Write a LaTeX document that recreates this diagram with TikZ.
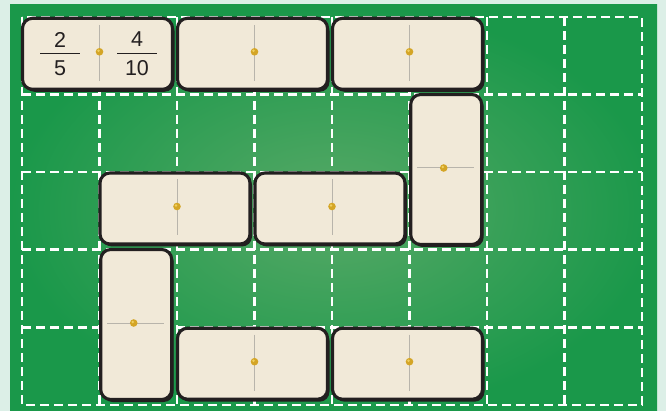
\documentclass[tikz,border=0pt]{standalone}
\usepackage{fontspec}
\setmainfont{Liberation Sans}
\usetikzlibrary{shadows}
\definecolor{bgmint}{HTML}{DCEFE7}
\definecolor{ingreen}{HTML}{58A967}
\definecolor{outgreen}{HTML}{1A984A}
\definecolor{domfill}{HTML}{F1E9D8}
\definecolor{domline}{HTML}{231F20}
\definecolor{divc}{HTML}{B8B4AB}
\definecolor{dotgold}{HTML}{D4A526}
\definecolor{dotlight}{HTML}{EFD060}
\tikzset{
  dom/.style={draw=domline, line width=3.1pt, fill=domfill, rounded corners=10pt, inner sep=0pt,
    drop shadow={shadow xshift=2pt, shadow yshift=-2.5pt, opacity=1, fill=domline}},
  hdom/.style={dom, minimum width=150pt, minimum height=71pt},
  vdom/.style={dom, minimum width=71pt, minimum height=150pt},
  gridline/.style={white, line width=2.6pt, dash pattern=on 9pt off 5pt},
  divider/.style={divc, line width=1pt},
  pip/.style={fill=dotgold},
  piphl/.style={fill=dotlight},
  num/.style={inner sep=0pt, text=domline, font=\fontsize{21.5}{21.5}\selectfont},
  fracbar/.style={domline, line width=1.9pt}
}
\begin{document}
\begin{tikzpicture}[x=1pt,y={(0pt,-1pt)}]
\useasboundingbox (0,0) rectangle (666,411);
\fill[bgmint] (0,0) rectangle (666,411);
\shade[inner color=ingreen, outer color=outgreen] (10,5) rectangle (657,415);
% grid
\draw[gridline] (22,17) rectangle (642,405);
\foreach \i in {1,...,7} \draw[gridline] (22+77.5*\i,17) -- (22+77.5*\i,405);
\foreach \j in {1,...,4} \draw[gridline] (22,17+77.6*\j) -- (642,17+77.6*\j);
% dominoes
\node[hdom] (d1) at (97.5,53.8) {};
\node[hdom] (d2) at (252.5,53.8) {};
\node[hdom] (d3) at (407.5,53.8) {};
\node[vdom] (d4) at (446.2,169.5) {};
\node[hdom] (d5) at (175,208.5) {};
\node[hdom] (d6) at (330,208.5) {};
\node[vdom] (d7) at (136.2,324.5) {};
\node[hdom] (d8) at (252.5,363.7) {};
\node[hdom] (d9) at (407.5,363.7) {};
% dividers and pips
\foreach \d in {d1,d2,d3,d5,d6,d8,d9}{
  \draw[divider] (\d.center) ++(2,-29) -- ++(0,56);
  \fill[pip] (\d.center) ++(2,-2) circle (3.8pt);
  \fill[piphl] (\d.center) ++(1,-3) circle (1.4pt);
}
\foreach \d in {d4,d7}{
  \draw[divider] (\d.center) ++(-29,-1.5) -- ++(57,0);
  \fill[pip] (\d.center) ++(-2.5,-1.5) circle (3.8pt);
  \fill[piphl] (\d.center) ++(-3.5,-2.5) circle (1.4pt);
}
% fractions
\node[num] (n1) at (60,39.5) {2};
\node[num] (m1) at (60,68.5) {5};
\draw[fracbar] (40,53.5) -- (79.5,53.5);
\node[num] (n2) at (137,39.5) {4};
\node[num] (m2) at (137,68.5) {10};
\draw[fracbar] (117,53.5) -- (157,53.5);
\end{tikzpicture}
\end{document}
